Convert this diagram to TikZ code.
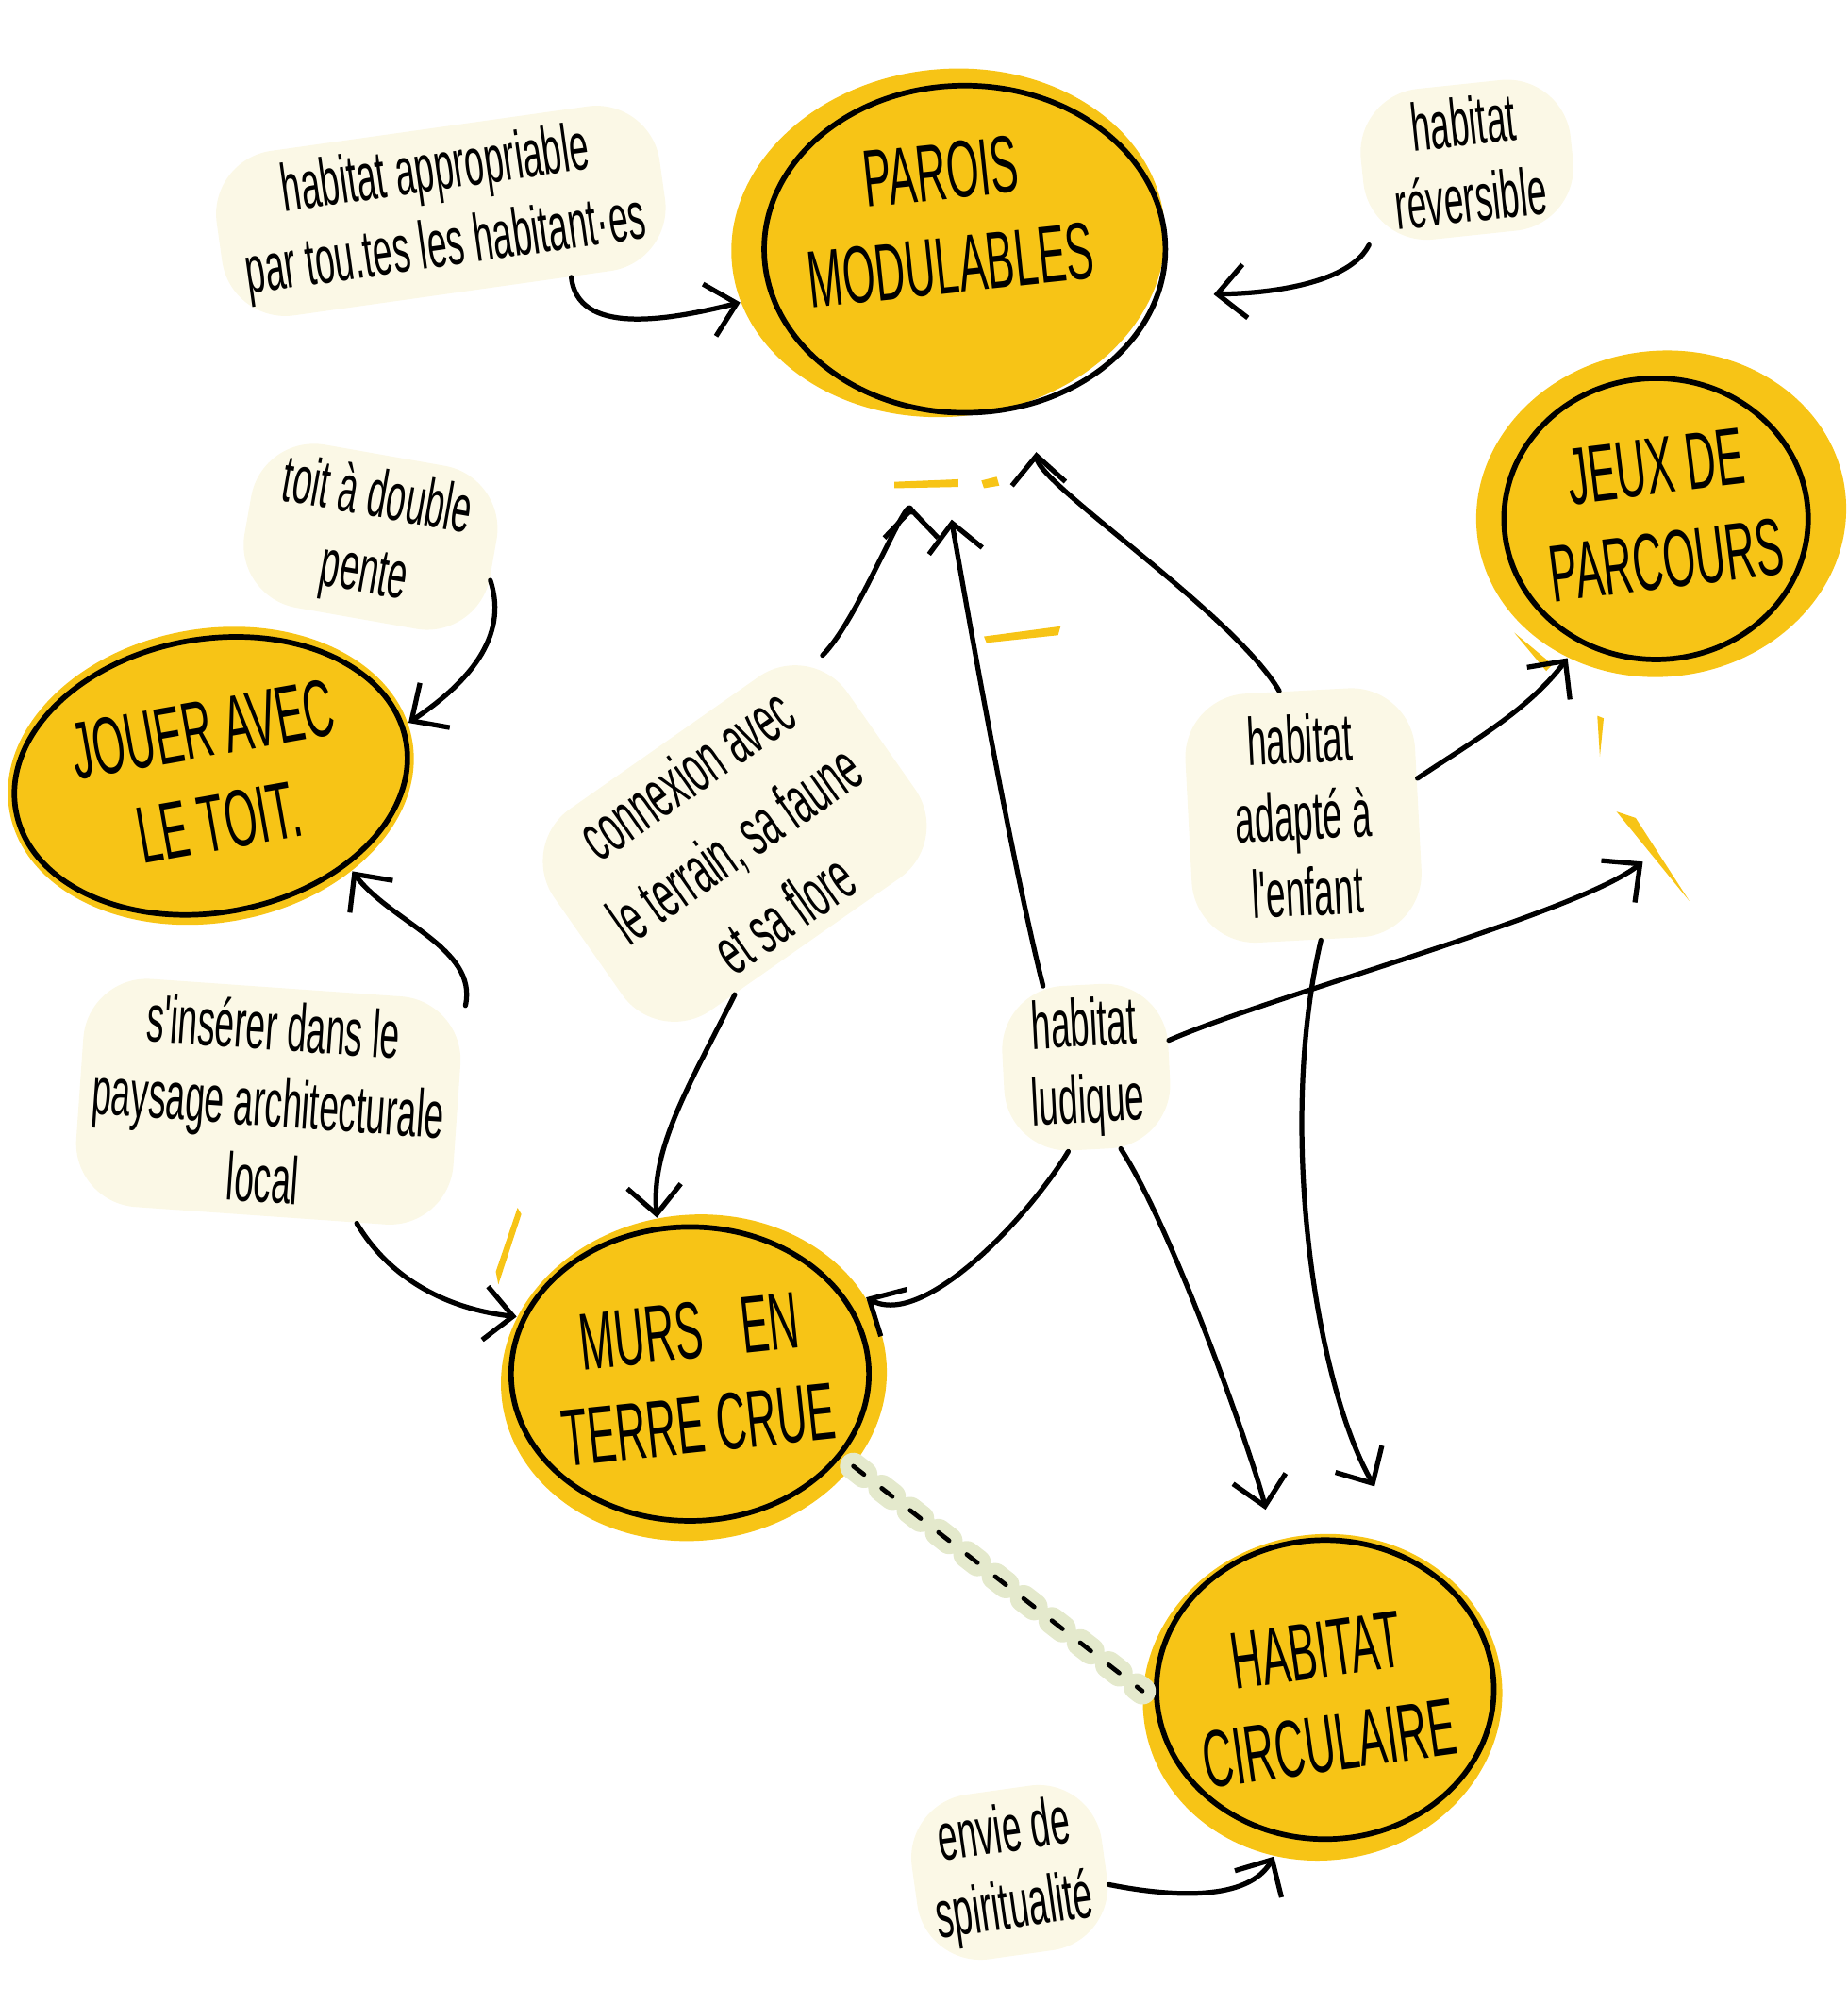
\documentclass[tikz,border=0pt]{standalone}
\usepackage{fontspec}
\newfontfamily\hand[FakeStretch=0.52]{Liberation Sans}
\usetikzlibrary{shapes.geometric}
\usetikzlibrary{arrows.meta}
\definecolor{jaune}{RGB}{247,196,22}
\definecolor{creme}{RGB}{251,248,230}
\definecolor{pointille}{RGB}{228,233,204}
\tikzset{
  idee/.style={ellipse, fill=jaune, inner sep=0pt, align=center,
    font=\hand\fontsize{18pt}{21pt}\selectfont},
  bulle/.style={rectangle, rounded corners=5mm, fill=creme, inner sep=1mm, align=center,
    font=\hand\fontsize{15pt}{17pt}\selectfont},
  contour/.style={line width=1.2pt},
  fleche/.style={line width=1.1pt, -{Straight Barb[length=2.2mm,width=4.2mm]}},
}

\begin{document}
\begin{tikzpicture}[line join=round, line cap=round]
  \useasboundingbox (0,0) rectangle (14.46,-15.68);

  % idees (taches jaunes)
  \node[idee, minimum width=3.4cm, minimum height=2.72cm, rotate=6] (paroi) at (7.42,-1.90) {PAROIS\\MODULABLES\\[-0.35cm]\mbox{}};
  \node[idee, minimum width=2.9cm, minimum height=2.55cm, rotate=7] (jeux) at (13.00,-4.02) {JEUX DE\\PARCOURS};
  \node[idee, minimum width=3.2cm, minimum height=2.3cm, rotate=10] (jouer) at (1.65,-6.07) {JOUER AVEC\\LE TOIT.};
  \node[idee, minimum width=2.9cm, minimum height=2.55cm, rotate=6] (murs) at (5.43,-10.78) {MURS\hspace{3mm}EN\\TERRE CRUE};
  \node[idee, minimum width=2.8cm, minimum height=2.55cm, rotate=8] (circ) at (10.35,-13.28) {HABITAT\\CIRCULAIRE};

  % contours au feutre
  \draw[contour] ([shift={(0.13,-0.05)}]paroi.center) ellipse (1.57 and 1.28);
  \draw[contour] ([shift={(-0.04,-0.04)}]jeux.center) ellipse (1.19 and 1.10);
  \draw[contour, rotate around={10:(jouer.center)}] (jouer.center) ellipse (1.55 and 1.07);
  \draw[contour] ([shift={(-0.03,0.03)}]murs.center) ellipse (1.40 and 1.15);
  \draw[contour] ([shift={(0.02,0.06)}]circ.center) ellipse (1.32 and 1.17);

  % petites traces jaunes
  \fill[jaune] (7.00,-3.77) -- (7.50,-3.75) -- (7.50,-3.81) -- (7.00,-3.82) -- cycle;
  \fill[jaune] (7.68,-3.76) -- (7.80,-3.73) -- (7.82,-3.80) -- (7.70,-3.82) -- cycle;
  \fill[jaune] (7.70,-4.98) -- (8.30,-4.90) -- (8.28,-4.97) -- (7.72,-5.03) -- cycle;
  \fill[jaune] (11.85,-4.95) -- (12.15,-5.20) -- (12.10,-5.25) -- cycle;
  \fill[jaune] (12.50,-5.60) -- (12.55,-5.62) -- (12.52,-5.92) -- cycle;
  \fill[jaune] (12.65,-6.35) -- (12.80,-6.40) -- (13.22,-7.05) -- cycle;
  \fill[jaune] (4.05,-9.45) -- (4.08,-9.50) -- (3.90,-10.05) -- (3.88,-9.95) -- cycle;

  % mots-cles (bulles creme)
  \node[bulle, minimum width=3.5cm, minimum height=1.3cm, rotate=8] (appr) at (3.45,-1.65) {habitat appropriable\\par tou.tes les habitant·es};
  \node[bulle, minimum width=1.65cm, minimum height=1.0cm, rotate=6] (rev) at (11.48,-1.25) {habitat\\réversible};
  \node[bulle, minimum width=1.95cm, minimum height=1.1cm, rotate=-10] (toit) at (2.90,-4.20) {toit à double\\pente};
  \node[bulle, minimum width=2.8cm, minimum height=1.8cm, rotate=35, font=\hand\fontsize{15pt}{19pt}\selectfont] (conn) at (5.75,-6.60) {connexion avec\\le terrain, sa faune\\et sa flore};
  \node[bulle, minimum width=1.8cm, minimum height=1.95cm, rotate=3] (adap) at (10.20,-6.38) {habitat\\adapté à\\l'enfant};
  \node[bulle, minimum width=2.9cm, minimum height=1.6cm, rotate=-4] (ins) at (2.10,-8.62) {s'insérer dans le\\paysage architecturale\\local};
  \node[bulle, minimum width=1.3cm, minimum height=1.25cm, rotate=3] (lud) at (8.50,-8.35) {habitat\\ludique};
  \node[bulle, minimum width=1.5cm, minimum height=1.3cm, rotate=8] (envie) at (7.90,-14.65) {envie de\\spiritualité};

  % liens
  \draw[fleche] (appr.-35) .. controls +(0.05,-0.45) and +(-0.6,-0.15) .. (paroi.190);
  \draw[fleche, shorten >=5mm] (rev.215) .. controls +(-0.2,-0.4) and +(0.5,0.05) .. (paroi.-22);
  \draw[fleche] (toit.-10) .. controls +(0.15,-0.45) and +(0.45,0.3) .. (jouer.5);
  \draw[fleche] (ins.30) .. controls +(0.1,0.45) and +(0.3,-0.4) .. (jouer.-44);
  \draw[fleche] (ins.-50) .. controls +(0.3,-0.5) and +(-0.45,0.05) .. (murs.155);
  \draw[fleche] (conn.-125) .. controls +(-0.35,-0.7) and +(-0.05,0.55) .. (murs.97);
  \draw[fleche, shorten >=7mm] (conn.30) .. controls +(0.3,0.3) and +(0,-0.5) .. (paroi.252);
  \draw[fleche, shorten >=8mm] (lud.115) .. controls +(-0.3,1.2) and +(0.1,-0.8) .. (paroi.-99);
  \draw[fleche, shorten >=4mm] (adap.98) .. controls +(-0.35,0.6) and +(0.05,-0.65) .. (paroi.-68);
  \draw[fleche] (adap.15) .. controls +(0.45,0.3) and +(-0.3,-0.4) .. (jeux.230);
  \draw[fleche] (lud.15) .. controls +(0.8,0.35) and +(-0.5,-0.4) .. ([shift={(-0.3,-1.45)}]jeux.south);
  \draw[fleche] (lud.-105) .. controls +(-0.3,-0.5) and +(0.45,-0.25) .. (murs.19);
  \draw[fleche, shorten >=2.5mm] (lud.-70) .. controls +(0.45,-0.7) and +(-0.1,0.5) .. (circ.100);
  \draw[fleche, shorten >=6mm] (adap.-85) .. controls +(-0.35,-1.5) and +(-0.75,1.3) .. (circ.50);
  \draw[fleche] (envie.-15) .. controls +(0.5,-0.1) and +(-0.2,-0.35) .. (circ.245);

  % lien en pointilles
  \draw[pointille, line width=6pt, dash pattern=on 3pt off 5pt] (murs.-35) -- (circ.170);
  \draw[line width=1pt, dash pattern=on 3pt off 5pt] (murs.-35) -- (circ.170);
\end{tikzpicture}
\end{document}
